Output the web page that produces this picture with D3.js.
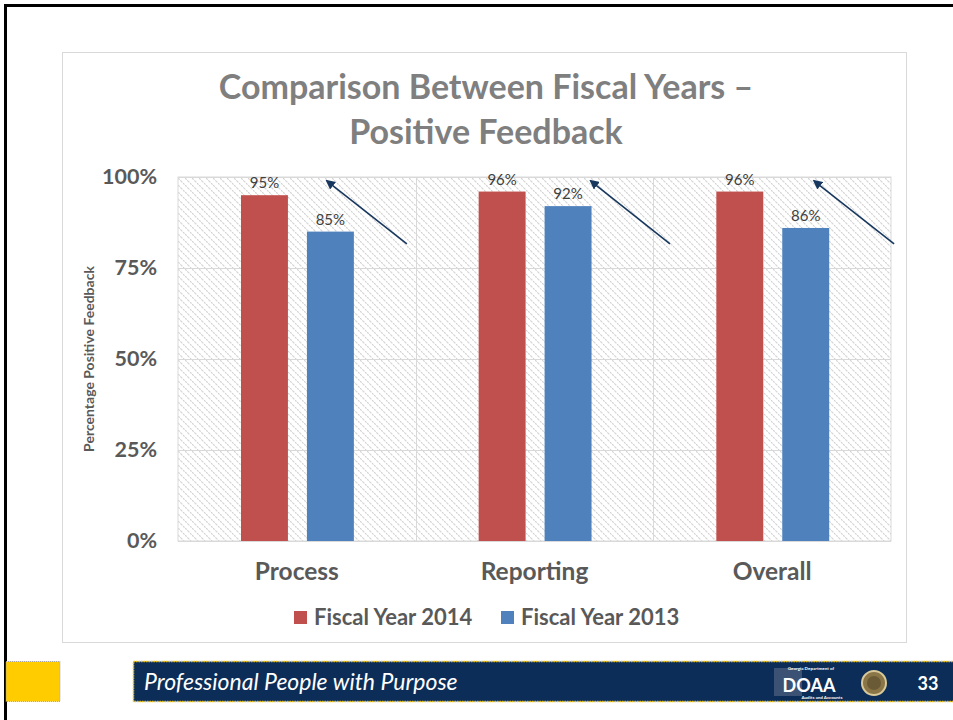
<!DOCTYPE html>
<html lang="en">

<head>
    <meta charset="utf-8">
    <title>Comparison Between Fiscal Years</title>
    <script src="https://d3js.org/d3.v7.min.js"></script>
    <style>
        body { margin: 0; background: #fff; }
        text { font-family: Lato, "Open Sans", sans-serif; }
    </style>
</head>

<body>
    <script type="text/javascript">

        var w = 953;
        var h = 720;

        // data
        var categories = ["Process", "Reporting", "Overall"];
        var seriesNames = ["Fiscal Year 2014", "Fiscal Year 2013"];
        var fy2014 = [95, 96, 96];
        var fy2013 = [85, 92, 86];
        var yTicks = [0, 25, 50, 75, 100];
        // trend arrows: [band fraction, value] for head and tail
        var arrowHead = [[0.627, 98.9], [0.737, 98.9], [0.677, 98.9]];
        var arrowTail = [[0.963, 81.6], [1.07, 81.6], [1.013, 81.6]];

        var colors = ["#c0504d", "#4f81bd"];
        var grey = "#595959";

        var margin = {left: 178, right: 62, top: 177, bottom: 179};

        var svg = d3.select("body")
            .append("svg")
            .attr("width", w)
            .attr("height", h);

        // slide frame
        svg.append("path")
            .attr("d", "M5.5,720 V5.5 H953")
            .attr("fill", "none")
            .attr("stroke", "#000")
            .attr("stroke-width", 3);

        // chart box
        svg.append("rect")
            .attr("x", 62.5).attr("y", 52.5)
            .attr("width", 844).attr("height", 590)
            .attr("fill", "#fff")
            .attr("stroke", "#d9d9d9");

        var defs = svg.append("defs");
        var pat = defs.append("pattern")
            .attr("id", "hatch")
            .attr("patternUnits", "userSpaceOnUse")
            .attr("width", 7).attr("height", 7);
        pat.append("path")
            .attr("d", "M-1,-1 L8,8 M-1,6 L1,8 M6,-1 L8,1")
            .attr("stroke", "#cfcfcf")
            .attr("stroke-width", 1.1)
            .attr("stroke-dasharray", "2,1");

        var x0 = d3.scaleBand()
            .domain(categories)
            .range([margin.left, w - margin.right]);

        var x1 = d3.scaleBand()
            .domain(seriesNames)
            .range([0.265 * x0.bandwidth(), 0.74 * x0.bandwidth()])
            .paddingInner(0.288)
            .paddingOuter(0);

        var y = d3.scaleLinear()
            .domain([0, 100])
            .range([h - margin.bottom, margin.top]);

        // plot background hatch
        svg.append("rect")
            .attr("x", margin.left)
            .attr("y", margin.top)
            .attr("width", w - margin.left - margin.right)
            .attr("height", y(0) - y(100))
            .attr("fill", "url(#hatch)")
            .attr("stroke", "#d9d9d9");

        // gridlines
        svg.append("g")
            .selectAll("line")
            .data(yTicks)
            .enter()
            .append("line")
            .attr("x1", margin.left)
            .attr("x2", w - margin.right)
            .attr("y1", function (d) { return Math.round(y(d)) + 0.5; })
            .attr("y2", function (d) { return Math.round(y(d)) + 0.5; })
            .attr("stroke", "#d9d9d9");

        svg.append("g")
            .selectAll("line")
            .data(categories.slice(1))
            .enter()
            .append("line")
            .attr("x1", function (d) { return Math.round(x0(d)) + 0.5; })
            .attr("x2", function (d) { return Math.round(x0(d)) + 0.5; })
            .attr("y1", y(100))
            .attr("y2", y(0))
            .attr("stroke", "#d9d9d9");

        // y axis labels
        var yAxis = d3.axisLeft(y)
            .tickValues(yTicks)
            .tickSize(0)
            .tickPadding(21)
            .tickFormat(function (d) { return d + "%"; });

        var yg = svg.append("g")
            .attr("transform", "translate(" + margin.left + ",0)")
            .call(yAxis);
        yg.select(".domain").remove();
        yg.selectAll("text")
            .attr("fill", grey)
            .attr("font-size", 21.5)
            .attr("font-weight", "bold")
            .attr("font-family", "Lato, sans-serif");

        // x axis labels
        var xAxis = d3.axisBottom(x0)
            .tickSize(0)
            .tickPadding(22);
        var xg = svg.append("g")
            .attr("transform", "translate(0," + y(0) + ")")
            .call(xAxis);
        xg.select(".domain").remove();
        xg.selectAll("text")
            .attr("fill", grey)
            .attr("font-size", 24.5)
            .attr("font-weight", "bold")
            .attr("font-family", "Lato, sans-serif");

        // bars
        var rows = categories.map(function (c, i) {
            return {cat: c, values: [fy2014[i], fy2013[i]]};
        });

        var groups = svg.selectAll("g.cat")
            .data(rows)
            .enter()
            .append("g")
            .attr("class", "cat")
            .attr("transform", function (d) {
                return "translate(" + x0(d.cat) + ",0)";
            });

        groups.selectAll("rect")
            .data(function (d) {
                return d.values.map(function (v, j) {
                    return {name: seriesNames[j], value: v, j: j};
                });
            })
            .enter()
            .append("rect")
            .attr("x", function (d) { return x1(d.name); })
            .attr("width", x1.bandwidth())
            .attr("y", function (d) { return y(d.value); })
            .attr("height", function (d) { return y(0) - y(d.value); })
            .attr("fill", function (d) { return colors[d.j]; });

        groups.selectAll("text.val")
            .data(function (d) {
                return d.values.map(function (v, j) {
                    return {name: seriesNames[j], value: v};
                });
            })
            .enter()
            .append("text")
            .attr("class", "val")
            .attr("x", function (d) { return x1(d.name) + x1.bandwidth() / 2; })
            .attr("y", function (d) { return y(d.value) - 7; })
            .attr("text-anchor", "middle")
            .attr("fill", "#404040")
            .attr("font-size", 15)
            .text(function (d) { return d.value + "%"; });

        // arrows
        defs.append("marker")
            .attr("id", "head")
            .attr("viewBox", "0 0 10 10")
            .attr("refX", 8).attr("refY", 5)
            .attr("markerWidth", 6).attr("markerHeight", 6)
            .attr("orient", "auto")
            .append("path")
            .attr("d", "M0,0 L10,5 L0,10 Z")
            .attr("fill", "#17375e");

        svg.append("g")
            .selectAll("line")
            .data(categories)
            .enter()
            .append("line")
            .attr("x1", function (d, i) { return x0(d) + arrowTail[i][0] * x0.bandwidth(); })
            .attr("y1", function (d, i) { return y(arrowTail[i][1]); })
            .attr("x2", function (d, i) { return x0(d) + arrowHead[i][0] * x0.bandwidth(); })
            .attr("y2", function (d, i) { return y(arrowHead[i][1]); })
            .attr("stroke", "#17375e")
            .attr("stroke-width", 1.6)
            .attr("marker-end", "url(#head)");

        // title
        var title = svg.append("text")
            .attr("text-anchor", "middle")
            .attr("fill", "#7f7f7f")
            .attr("font-size", 34)
            .attr("font-weight", "bold");
        title.append("tspan").attr("x", 486).attr("y", 99)
            .text("Comparison Between Fiscal Years \u2013");
        title.append("tspan").attr("x", 486).attr("y", 144)
            .text("Positive Feedback");

        // y axis title
        svg.append("text")
            .attr("transform", "translate(94," + y(50) + ") rotate(-90)")
            .attr("text-anchor", "middle")
            .attr("fill", grey)
            .attr("font-size", 14)
            .attr("font-weight", "bold")
            .text("Percentage Positive Feedback");

        // legend
        var legendX = [294, 501];
        var legend = svg.selectAll("g.legend")
            .data(seriesNames)
            .enter()
            .append("g")
            .attr("class", "legend")
            .attr("transform", function (d, i) {
                return "translate(" + legendX[i] + ",611)";
            });
        legend.append("rect")
            .attr("width", 13).attr("height", 13)
            .attr("fill", function (d, i) { return colors[i]; });
        legend.append("text")
            .attr("x", 20).attr("y", 14)
            .attr("fill", grey)
            .attr("font-size", 22)
            .attr("font-weight", "bold")
            .text(function (d) { return d; });

        // footer
        svg.append("rect")
            .attr("x", 6).attr("y", 661.5)
            .attr("width", 54).attr("height", 40)
            .attr("fill", "#ffcc00")
            .attr("stroke", "#a6a6a6")
            .attr("stroke-dasharray", "1,1");
        svg.append("rect")
            .attr("x", 133.5).attr("y", 661.5)
            .attr("width", 830).attr("height", 40)
            .attr("fill", "#0b2d57")
            .attr("stroke", "#e8c020")
            .attr("stroke-width", 1.5)
            .attr("stroke-dasharray", "1.5,1");
        svg.append("text")
            .attr("x", 144).attr("y", 690)
            .attr("fill", "#fff")
            .attr("font-size", 23)
            .attr("font-style", "italic")
            .attr("font-family", "'Open Sans', sans-serif")
            .text("Professional People with Purpose");

        // DOAA badge
        svg.append("rect")
            .attr("x", 774).attr("y", 668)
            .attr("width", 28).attr("height", 28)
            .attr("fill", "#3b5274");
        svg.append("text")
            .attr("x", 811).attr("y", 670)
            .attr("text-anchor", "middle")
            .attr("fill", "#fff")
            .attr("font-size", 4.5)
            .attr("font-weight", "bold")
            .text("Georgia Department of");
        svg.append("text")
            .attr("x", 809).attr("y", 692)
            .attr("text-anchor", "middle")
            .attr("fill", "#fff")
            .attr("font-size", 18)
            .attr("font-weight", "bold")
            .attr("font-family", "'Open Sans', sans-serif")
            .text("DOAA");
        svg.append("text")
            .attr("x", 822).attr("y", 699)
            .attr("text-anchor", "middle")
            .attr("fill", "#fff")
            .attr("font-size", 4.5)
            .attr("font-weight", "bold")
            .text("Audits and Accounts");
        svg.append("circle")
            .attr("cx", 874).attr("cy", 683).attr("r", 12)
            .attr("fill", "#8a7546")
            .attr("stroke", "#d8c89a")
            .attr("stroke-width", 2);
        svg.append("circle")
            .attr("cx", 874).attr("cy", 683).attr("r", 7)
            .attr("fill", "#6b5a36");

        svg.append("text")
            .attr("x", 928).attr("y", 690)
            .attr("text-anchor", "middle")
            .attr("fill", "#fff")
            .attr("font-size", 18)
            .attr("font-weight", "bold")
            .attr("font-family", "'Open Sans', sans-serif")
            .text("33");

    </script>
</body>

</html>
